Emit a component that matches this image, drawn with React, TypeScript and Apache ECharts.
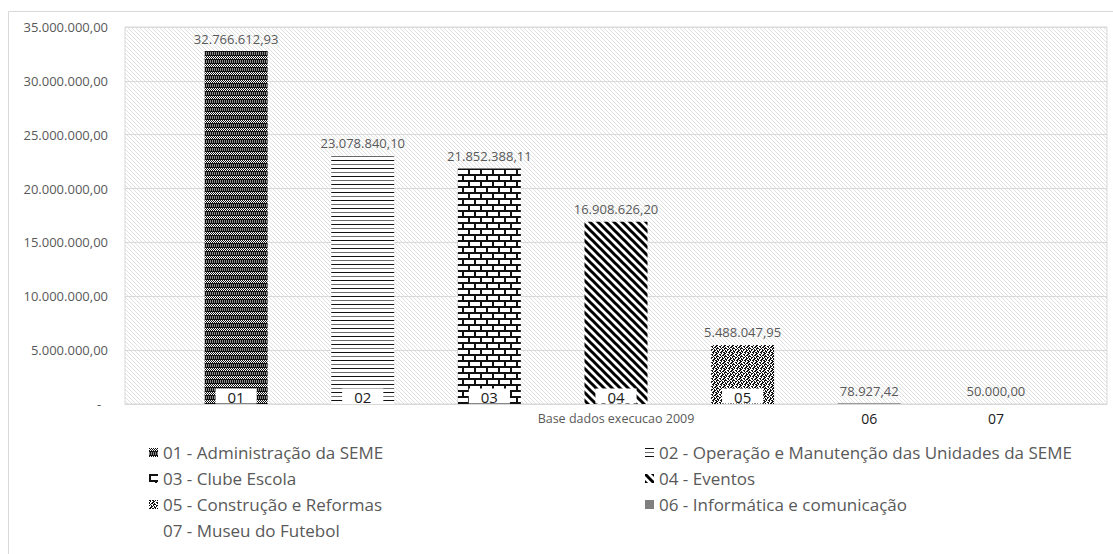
import React, { useEffect, useRef } from 'react';
import * as echarts from 'echarts';

const CATEGORY = ['Base dados execucao 2009'];
const CODES = ['01', '02', '03', '04', '05', '06', '07'];
const NAMES = [
  '01 - Administração da SEME',
  '02 - Operação e Manutenção das Unidades da SEME',
  '03 - Clube Escola',
  '04 - Eventos',
  '05 - Construção e Reformas',
  '06 - Informática e comunicação',
  '07 - Museu do Futebol',
];
const VALUES = [32766612.93, 23078840.1, 21852388.11, 16908626.2, 5488047.95, 78927.42, 50000.0];
const Y_MIN = 0;
const Y_MAX = 35000000;
const Y_STEP = 5000000;
const LEGEND_LEFT = [NAMES[0], NAMES[2], NAMES[4], NAMES[6]];
const LEGEND_RIGHT = [NAMES[1], NAMES[3], NAMES[5]];

const FONT = '"Open Sans", sans-serif';

function fmt(v: number): string {
  const [i, d] = v.toFixed(2).split('.');
  return i.replace(/\B(?=(\d{3})+(?!\d))/g, '.') + ',' + d;
}

function tile(w: number, h: number, draw: (ctx: CanvasRenderingContext2D) => void) {
  const c = document.createElement('canvas');
  c.width = w;
  c.height = h;
  const ctx = c.getContext('2d')!;
  draw(ctx);
  return { image: c.toDataURL(), repeat: 'repeat', imageWidth: w, imageHeight: h } as any;
}

function fromMap(map: string[], dark: string) {
  const h = map.length;
  const w = map[0].length;
  return tile(w, h, (ctx) => {
    ctx.fillStyle = '#ffffff';
    ctx.fillRect(0, 0, w, h);
    map.forEach((row, y) => {
      row.split('').forEach((ch, x) => {
        if (ch === '#') {
          ctx.fillStyle = dark;
          ctx.fillRect(x, y, 1, 1);
        } else if (ch === 'g') {
          ctx.fillStyle = '#8a8a8a';
          ctx.fillRect(x, y, 1, 1);
        }
      });
    });
  });
}

function makeFills() {
  const bg = tile(4, 4, (ctx) => {
    ctx.fillStyle = '#ffffff';
    ctx.fillRect(0, 0, 4, 4);
    ctx.fillStyle = '#e0e0e0';
    for (let i = 0; i < 4; i++) ctx.fillRect(i, i, 1, 1);
  });
  const p01 = fromMap(
    [
      '#.#.#.#.',
      '.#.#.#.#',
      '#.#.#.#.',
      '########',
      'g#g#g#g#',
      'g#g#g#g#',
      'g#g#g#g#',
      '########',
    ],
    '#111111'
  );
  const p02 = tile(4, 8, (ctx) => {
    ctx.fillStyle = '#ffffff';
    ctx.fillRect(0, 0, 4, 8);
    ctx.fillStyle = '#111111';
    ctx.fillRect(0, 0, 4, 1);
    ctx.fillStyle = '#6a6a6a';
    ctx.fillRect(0, 4, 4, 1);
  });
  const p03 = tile(12, 12, (ctx) => {
    ctx.fillStyle = '#ffffff';
    ctx.fillRect(0, 0, 12, 12);
    ctx.fillStyle = '#111111';
    ctx.fillRect(0, 0, 12, 2);
    ctx.fillRect(0, 6, 12, 2);
    ctx.fillRect(0, 2, 2, 4);
    ctx.fillRect(6, 8, 2, 4);
  });
  const p04 = tile(8, 8, (ctx) => {
    ctx.fillStyle = '#ffffff';
    ctx.fillRect(0, 0, 8, 8);
    ctx.strokeStyle = '#000000';
    ctx.lineWidth = 3;
    for (const off of [-8, 0, 8]) {
      ctx.beginPath();
      ctx.moveTo(off - 2, -2);
      ctx.lineTo(off + 10, 10);
      ctx.stroke();
    }
  });
  const p05 = fromMap(
    [
      '##.##.#.',
      '.#..##..',
      '#..##..#',
      '#.##.#..',
      '.#..###.',
      '#.#.#..#',
      '..##.#.#',
      '.##..##.',
    ],
    '#111111'
  );
  return { bg, bars: [p01, p02, p03, p04, p05, '#7f7f7f', 'rgba(0,0,0,0)'] };
}

export default function App() {
  const ref = useRef<HTMLDivElement>(null);
  useEffect(() => {
    if (!ref.current) return;
    const chart = echarts.init(ref.current, null, { renderer: 'svg' });
    const fills = makeFills();
    const legendBase = {
      orient: 'vertical',
      top: 444,
      padding: 0,
      icon: 'rect',
      itemWidth: 9,
      itemHeight: 9,
      itemGap: 9,
      selectedMode: false,
      textStyle: { fontSize: 17, color: '#595959', fontFamily: FONT, lineHeight: 16 },
    };
    const option: any = {
      animation: false,
      backgroundColor: '#ffffff',
      textStyle: { fontFamily: FONT },
      graphic: [
        {
          type: 'rect',
          silent: true,
          shape: { x: 8.5, y: 11.5, width: 1200, height: 700 },
          style: { fill: 'none', stroke: '#d9d9d9', lineWidth: 1 },
        },
      ],
      grid: {
        left: 125,
        right: 6,
        top: 27,
        bottom: 150,
        show: true,
        backgroundColor: fills.bg,
        borderColor: '#d9d9d9',
        borderWidth: 1,
      },
      legend: [
        { ...legendBase, left: 149, data: LEGEND_LEFT },
        { ...legendBase, left: 645, data: LEGEND_RIGHT },
      ],
      xAxis: {
        type: 'category',
        data: CATEGORY,
        axisLine: { show: true, lineStyle: { color: '#d9d9d9' } },
        axisTick: { show: false },
        axisLabel: { color: '#595959', fontSize: 12.5, margin: 8, fontFamily: FONT },
        splitLine: { show: false },
      },
      yAxis: {
        type: 'value',
        min: Y_MIN,
        max: Y_MAX,
        interval: Y_STEP,
        axisLine: { show: false },
        axisTick: { show: false },
        splitLine: { show: true, lineStyle: { color: '#d9d9d9' } },
        axisLabel: {
          color: '#595959',
          fontSize: 13,
          margin: 17,
          fontFamily: FONT,
          formatter: (v: number) => (v === 0 ? '-\u00a0\u00a0' : fmt(v)),
        },
      },
      series: VALUES.map((v, i) => {
        const below = v < 1000000;
        return {
          type: 'bar',
          name: NAMES[i],
          data: [v],
          barWidth: 63,
          barGap: '101%',
          itemStyle: { color: fills.bars[i] },
          emphasis: { disabled: true },
          label: {
            show: true,
            position: 'top',
            distance: 6,
            color: '#595959',
            fontSize: 13,
            fontFamily: FONT,
            formatter: (p: any) => fmt(p.value),
          },
          markPoint: {
            silent: true,
            symbol: 'rect',
            symbolSize: 1,
            itemStyle: { color: 'rgba(0,0,0,0)' },
            data: [{ coord: [0, 0] }],
            label: below
              ? {
                  show: true,
                  position: 'bottom',
                  distance: 7,
                  formatter: CODES[i],
                  color: '#1a1a1a',
                  fontSize: 14,
                  fontFamily: FONT,
                }
              : {
                  show: true,
                  position: 'top',
                  distance: 0,
                  formatter: CODES[i],
                  backgroundColor: '#ffffff',
                  padding: [1, 12, 0, 12],
                  color: '#1a1a1a',
                  fontSize: 15,
                  lineHeight: 14,
                  fontFamily: FONT,
                },
          },
        };
      }),
    };
    chart.setOption(option);
    return () => chart.dispose();
  }, []);
  return (
    <div
      ref={ref}
      style={{ position: 'fixed', left: 0, top: 0, width: 1113, height: 554, background: '#fff' }}
    />
  );
}
